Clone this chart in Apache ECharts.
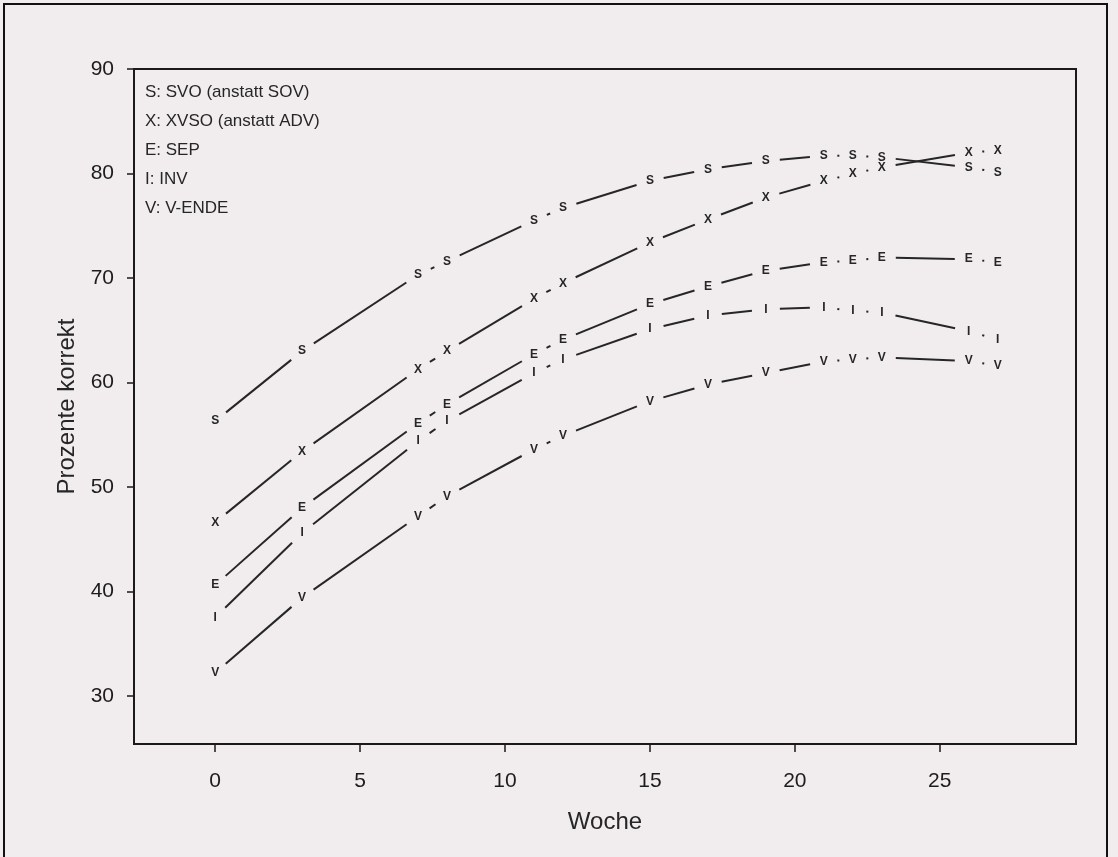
<!DOCTYPE html>
<html><head><meta charset="utf-8">
<script src="https://cdn.jsdelivr.net/npm/echarts@6/dist/echarts.min.js"></script>
<style>html,body{margin:0;padding:0;background:#f1edee}#c{width:1118px;height:857px}</style>
</head><body><div id="c"></div>
<script>
// ---- data ----
const weeks = [0, 3, 7, 8, 11, 12, 15, 17, 19, 21, 22, 23, 26, 27];
const svo   = [56.3, 63.0, 70.3, 71.6, 75.5, 76.7, 79.3, 80.4, 81.2, 81.7, 81.7, 81.55, 80.6, 80.1];
const xvso  = [46.6, 53.4, 61.25, 63.0, 68.0, 69.5, 73.4, 75.6, 77.7, 79.3, 79.95, 80.6, 82.0, 82.2];
const sep   = [40.6, 48.0, 56.1, 57.9, 62.7, 64.1, 67.5, 69.2, 70.7, 71.5, 71.65, 71.95, 71.8, 71.5];
const inv   = [37.5, 45.6, 54.4, 56.3, 60.9, 62.2, 65.1, 66.4, 67.0, 67.2, 66.85, 66.7, 64.9, 64.1];
const vende = [32.2, 39.4, 47.2, 49.1, 53.6, 54.9, 58.2, 59.8, 60.9, 62.0, 62.2, 62.4, 62.05, 61.6];
const letters = ['S', 'X', 'E', 'I', 'V'];
const legendLines = ['S: SVO (anstatt SOV)', 'X: XVSO (anstatt ADV)', 'E: SEP', 'I: INV', 'V: V-ENDE'];
const xTicks = [0, 5, 10, 15, 20, 25];
const yTicks = [30, 40, 50, 60, 70, 80, 90];
const xTitle = 'Woche';
const yTitle = 'Prozente korrekt';

const ink = '#262626';
const allValues = [svo, xvso, sep, inv, vende];

function makeSeries(letter, values) {
  const data = weeks.map((w, i) => {
    const last = i === weeks.length - 1;
    return [w, values[i], last ? w : weeks[i + 1], last ? values[i] : values[i + 1], last ? 0 : 1];
  });
  return {
    type: 'custom',
    name: letter,
    data: data,
    encode: { x: [0, 2], y: [1, 3] },
    clip: false,
    renderItem: function (params, api) {
      const p0 = api.coord([api.value(0), api.value(1)]);
      const children = [{
        type: 'text',
        style: {
          text: letter, x: p0[0], y: p0[1], align: 'center', verticalAlign: 'middle',
          font: 'bold 12px "Liberation Sans", Arial, sans-serif', fill: ink
        }
      }];
      if (api.value(4)) {
        const p1 = api.coord([api.value(2), api.value(3)]);
        const dx = p1[0] - p0[0], dy = p1[1] - p0[1];
        const d = Math.hypot(dx, dy);
        const gap = 14;
        const ux = dx / d, uy = dy / d;
        let a = gap, b = d - gap;
        if (b - a < 2) { const m = d / 2; a = m - 1; b = m + 1; }
        children.push({
          type: 'line',
          shape: { x1: p0[0] + ux * a, y1: p0[1] + uy * a, x2: p0[0] + ux * b, y2: p0[1] + uy * b },
          style: { stroke: ink, lineWidth: 2 }
        });
      }
      return { type: 'group', children: children };
    }
  };
}

const chart = echarts.init(document.getElementById('c'), null, { renderer: 'canvas' });
const font = '"Liberation Sans", Arial, sans-serif';
chart.setOption({
  backgroundColor: '#f1edee',
  animation: false,
  grid: { left: 134, right: 42, top: 69, bottom: 113, show: true, borderColor: '#1a1a1a', borderWidth: 2, backgroundColor: 'transparent' },
  xAxis: {
    type: 'value', min: -2.8, max: 29.7,
    name: xTitle, nameLocation: 'middle', nameGap: 66,
    nameTextStyle: { fontFamily: font, fontSize: 24, color: ink },
    axisLine: { show: true, onZero: false, lineStyle: { color: '#1a1a1a', width: 2 } },
    axisTick: { show: true, length: 8, inside: false, customValues: xTicks, lineStyle: { color: '#1a1a1a', width: 1.5 } },
    axisLabel: { customValues: xTicks, margin: 27, fontFamily: font, fontSize: 21, color: '#1c1c1c' },
    splitLine: { show: false }
  },
  yAxis: {
    type: 'value', min: 25.4, max: 90,
    name: yTitle, nameLocation: 'middle', nameGap: 54, nameRotate: 90,
    nameTextStyle: { fontFamily: font, fontSize: 24, color: ink },
    axisLine: { show: true, onZero: false, lineStyle: { color: '#1a1a1a', width: 2 } },
    axisTick: { show: true, length: 7, inside: false, customValues: yTicks, lineStyle: { color: '#1a1a1a', width: 1.5 } },
    axisLabel: { customValues: yTicks, margin: 20, fontFamily: font, fontSize: 21, color: '#1c1c1c' },
    splitLine: { show: false }
  },
  graphic: [
    { type: 'polyline', silent: true, shape: { points: [[4, 857], [4, 4], [1107, 4], [1107, 857]] }, style: { stroke: '#111', lineWidth: 2, fill: null } }
  ].concat(legendLines.map((t, i) => ({
    type: 'text', left: 145, top: 84 + 29 * i,
    style: { text: t, font: '17px ' + font, fill: ink }
  }))),
  series: letters.map((l, i) => makeSeries(l, allValues[i]))
});
</script>
</body></html>
